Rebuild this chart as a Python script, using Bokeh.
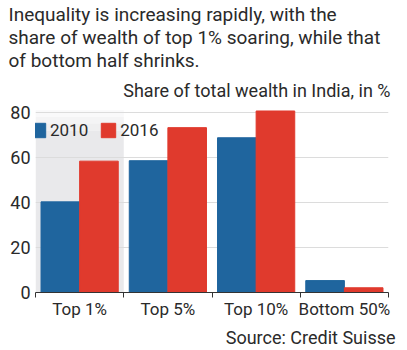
from bokeh.plotting import figure
from bokeh.models import (ColumnDataSource, FixedTicker, Range1d, Title, Legend,
                          LegendItem, BoxAnnotation, LinearAxis)
from bokeh.embed import file_html
from bokeh.resources import INLINE

categories = ["Top 1%", "Top 5%", "Top 10%", "Bottom 50%"]
share_2010 = [40.3, 58.6, 68.8, 5.3]
share_2016 = [58.4, 73.3, 80.7, 2.1]
years = ["2010", "2016"]
colors = ["#1f659e", "#e03a2d"]
y_ticks = [0, 20, 40, 60, 80]
title_lines = ["Inequality is increasing rapidly, with the",
               "share of wealth of top 1% soaring, while that",
               "of bottom half shrinks."]
subtitle = "Share of total wealth in India, in %"
source_note = "Source: Credit Suisse"

FONT = "Roboto"
TXT = "#2a2a2a"

n = len(categories)
centers = [i + 0.5 for i in range(n)]
bar_w = 0.4375
src = ColumnDataSource(dict(
    x1=[c - bar_w / 2 for c in centers],
    x2=[c + bar_w / 2 for c in centers],
    v2010=share_2010, v2016=share_2016))

p = figure(width=407, height=350, output_backend="svg", toolbar_location=None,
           x_range=Range1d(0, n), y_range=Range1d(0, 82.7),
           min_border_left=35, min_border_right=19, min_border_top=0,
           min_border_bottom=0)
p.outline_line_color = None
p.background_fill_color = "white"

# highlighted first category: light gray band fading out towards the top
p.add_layout(BoxAnnotation(left=0, right=1, top=72, fill_color="#e9e9eb",
                           fill_alpha=1, line_color=None, level="image"))
for lo, hi, a in [(72, 75, 0.75), (75, 78, 0.5), (78, 81, 0.25)]:
    p.add_layout(BoxAnnotation(left=0, right=1, bottom=lo, top=hi,
                               fill_color="#e9e9eb", fill_alpha=a,
                               line_color=None, level="image"))

r1 = p.vbar(x="x1", top="v2010", width=bar_w, source=src, color=colors[0])
r2 = p.vbar(x="x2", top="v2016", width=bar_w, source=src, color=colors[1])

p.xgrid.grid_line_color = None
p.ygrid.grid_line_color = "#dcdcdc"
p.ygrid.ticker = FixedTicker(ticks=y_ticks)

p.yaxis.ticker = FixedTicker(ticks=y_ticks)
p.yaxis.axis_line_color = None
p.yaxis.major_tick_line_color = None
p.yaxis.minor_tick_line_color = None
p.yaxis.major_tick_out = 0
p.yaxis.major_tick_in = 0
p.yaxis.major_label_text_font = FONT
p.yaxis.major_label_text_font_size = "18px"
p.yaxis.major_label_text_color = TXT
p.yaxis.major_label_standoff = 5

p.xaxis.ticker = FixedTicker(ticks=centers, minor_ticks=list(range(n + 1)))
p.xaxis.major_label_overrides = {c: lab for c, lab in zip(centers, categories)}
p.xaxis.axis_line_color = "#333333"
p.xaxis.major_tick_line_color = None
p.xaxis.major_tick_out = 0
p.xaxis.major_tick_in = 0
p.xaxis.minor_tick_line_color = "#333333"
p.xaxis.minor_tick_out = 5
p.xaxis.minor_tick_in = 0
p.xaxis.major_label_text_font = FONT
p.xaxis.major_label_text_font_size = "17px"
p.xaxis.major_label_text_color = TXT
p.xaxis.major_label_standoff = 1

legend = Legend(items=[LegendItem(label=years[0], renderers=[r1]),
                       LegendItem(label=years[1], renderers=[r2])],
                orientation="horizontal", location=(-6, 152),
                background_fill_alpha=0, border_line_color=None,
                label_text_font=FONT, label_text_font_size="17px",
                label_text_color=TXT, glyph_width=18, glyph_height=18,
                label_standoff=3, spacing=11, padding=0, margin=0)
p.add_layout(legend)

# panels above the frame, from the frame outwards
p.add_layout(Title(text=subtitle, align="right", offset=-2, standoff=12,
                   text_font=FONT, text_font_size="18px", text_color=TXT,
                   text_font_style="normal"), "above")
spacer = LinearAxis(ticker=FixedTicker(ticks=[]), axis_line_color=None,
                    major_tick_line_color=None, minor_tick_line_color=None,
                    major_tick_out=19, major_tick_in=0, minor_tick_out=0,
                    minor_tick_in=0, major_label_standoff=0)
p.add_layout(spacer, "above")
p.add_layout(Title(text="\n".join(title_lines), align="left", offset=-27,
                   standoff=0, text_line_height=1.0,
                   text_font=FONT, text_font_size="19px", text_color=TXT,
                   text_font_style="normal"), "above")
p.add_layout(Title(text=source_note, align="right", offset=-7, standoff=6,
                   text_font=FONT, text_font_size="18px", text_color=TXT,
                   text_font_style="normal"), "below")

open("out.html", "w").write(file_html(p, INLINE))
